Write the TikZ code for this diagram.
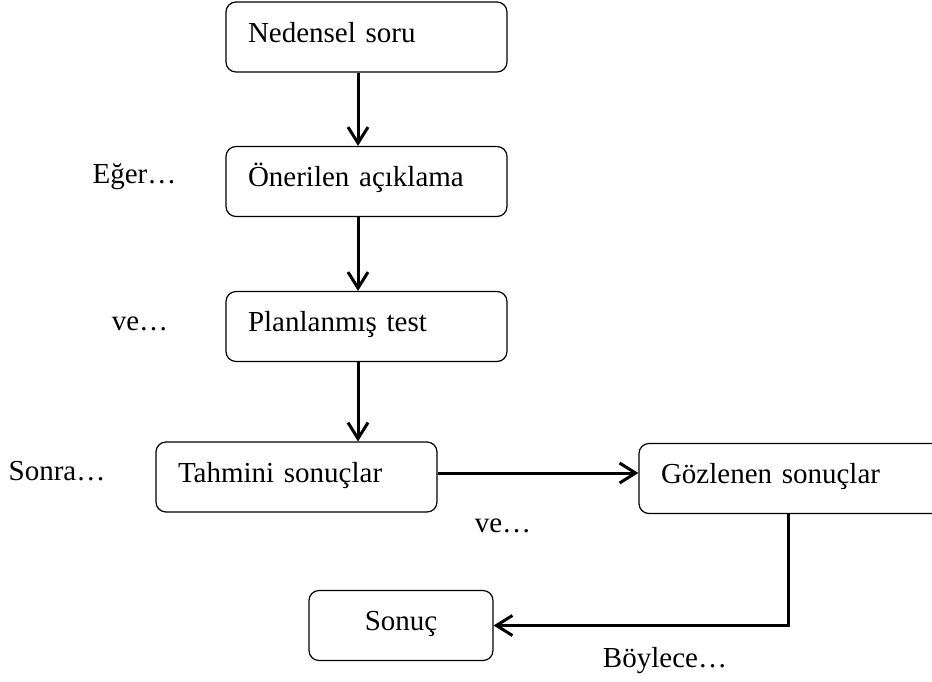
\documentclass[tikz,border=0pt]{standalone}
\usepackage{fontspec}
\setmainfont{Liberation Serif}
\usetikzlibrary{arrows.meta}

\begin{document}
\begin{tikzpicture}[x=0.5pt, y=-0.5pt,
    every node/.style={font=\fontsize{14.5}{17}\selectfont},
    box/.style={draw, rounded corners=5pt, line width=0.6pt, minimum height=35pt,
        text height=9pt, text depth=4pt, inner xsep=11pt},
    wide/.style={box, text width=#1, align=left},
    arr/.style={line width=1.5pt, -{Straight Barb[length=8pt, width=10pt]}}]

    % Fix the picture frame (the right box runs off the edge)
    \clip (0,0) rectangle (932,681);

    % Create the boxes of the vertical chain
    \foreach \i/\y/\txt in {1/37/Nedensel soru, 2/181.5/Önerilen açıklama, 3/326.5/Planlanmış test} {
        \node [wide=118.5pt] (n\i) at (366.5,\y) {\txt};
    }
    \node [wide=118.5pt] (n4) at (296.5,477) {Tahmini sonuçlar};
    \node [wide=131pt] (n5) at (792,478.5) {Gözlenen sonuçlar};
    \node [box, minimum width=92pt, align=center] (n6) at (401,625.5) {Sonuç};

    % Draw arrows down the chain
    \foreach \i in {1,2} {
        \pgfmathtruncatemacro{\next}{\i+1}
        \draw [arr] ([xshift=-4.25pt]n\i.south) -- ([xshift=-4.25pt]n\next.north);
    }
    \draw [arr] ([xshift=-4.25pt]n3.south) -- ([xshift=-4.25pt]n3.south |- n4.north);
    \draw [arr] ([yshift=2pt]n4.east) -- ([yshift=2pt]n4.east -| n5.west);
    \draw [arr] ([xshift=-2pt]n5.south) |- (n6.east);

    % Side labels
    \node [anchor=base] (eger) at (134.5,183) {Eğer…};
    \node [anchor=base] (ve1) at (140,330) {ve…};
    \node [anchor=base] (sonra) at (57,480) {Sonra…};
    \node [anchor=base] (ve2) at (503,532) {ve…};
    \node [anchor=base] (boylece) at (665,667) {Böylece…};
\end{tikzpicture}
\end{document}
